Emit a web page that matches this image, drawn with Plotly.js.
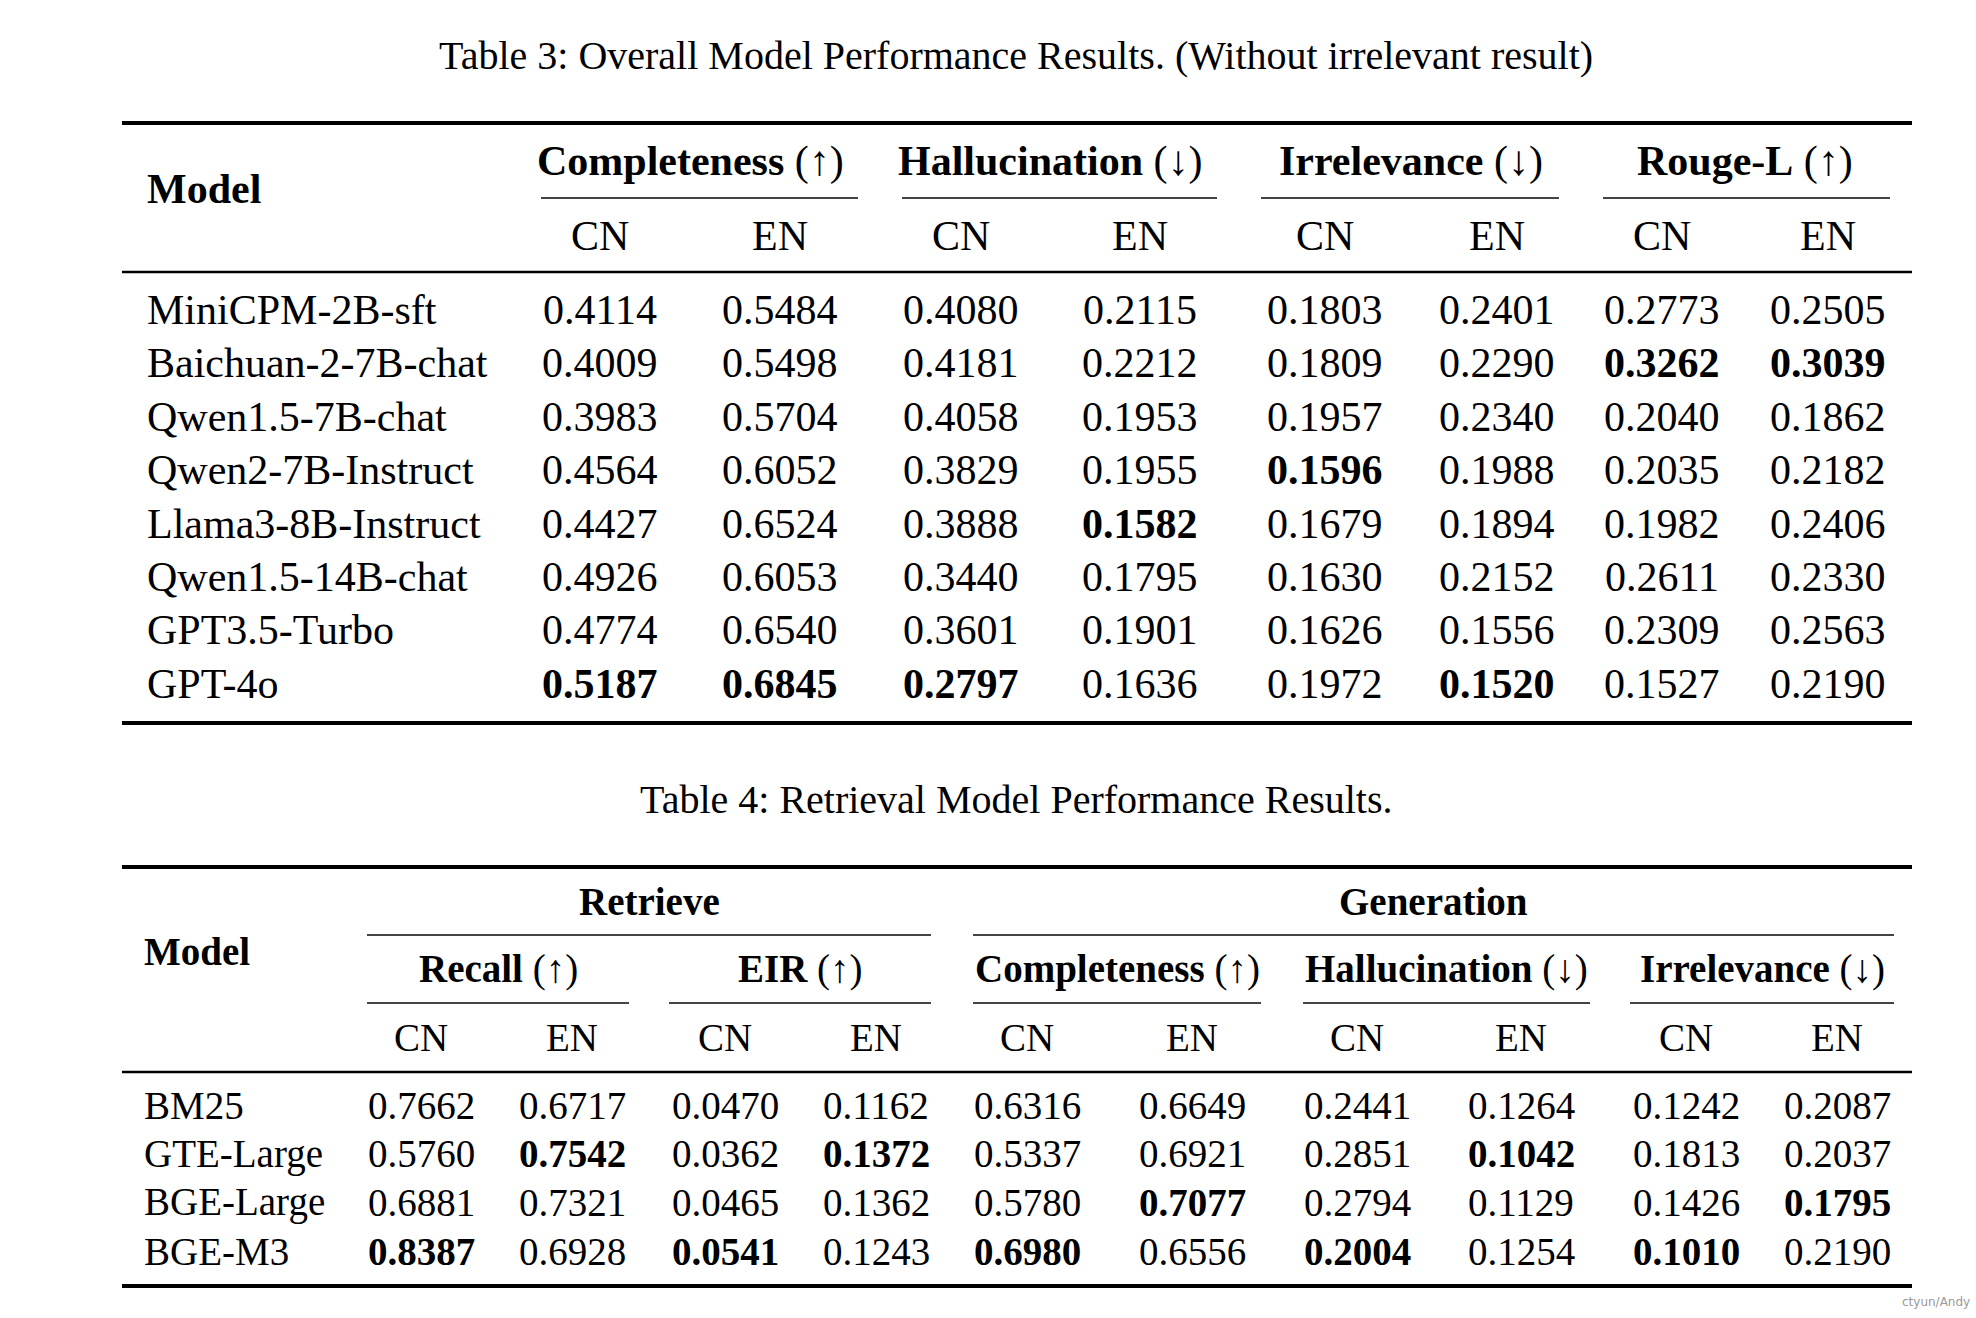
<!DOCTYPE html>
<html>
<head>
<meta charset="utf-8">
<script src="https://cdn.plot.ly/plotly-3.0.1.min.js"></script>
<style>
  html, body { margin: 0; padding: 0; background: #fff; }
  #chart { width: 1976px; height: 1318px; }
</style>
</head>
<body>
<div id="chart"></div>
<script>
// ---- Table 3 data ----
const models = ['MiniCPM-2B-sft', 'Baichuan-2-7B-chat', 'Qwen1.5-7B-chat', 'Qwen2-7B-Instruct',
  'Llama3-8B-Instruct', 'Qwen1.5-14B-chat', 'GPT3.5-Turbo', 'GPT-4o'];
const completenessCN = [0.4114, 0.4009, 0.3983, 0.4564, 0.4427, 0.4926, 0.4774, 0.5187];
const completenessEN = [0.5484, 0.5498, 0.5704, 0.6052, 0.6524, 0.6053, 0.6540, 0.6845];
const hallucinationCN = [0.4080, 0.4181, 0.4058, 0.3829, 0.3888, 0.3440, 0.3601, 0.2797];
const hallucinationEN = [0.2115, 0.2212, 0.1953, 0.1955, 0.1582, 0.1795, 0.1901, 0.1636];
const irrelevanceCN = [0.1803, 0.1809, 0.1957, 0.1596, 0.1679, 0.1630, 0.1626, 0.1972];
const irrelevanceEN = [0.2401, 0.2290, 0.2340, 0.1988, 0.1894, 0.2152, 0.1556, 0.1520];
const rougeCN = [0.2773, 0.3262, 0.2040, 0.2035, 0.1982, 0.2611, 0.2309, 0.1527];
const rougeEN = [0.2505, 0.3039, 0.1862, 0.2182, 0.2406, 0.2330, 0.2563, 0.2190];
const metrics3 = ['Completeness', 'Hallucination', 'Irrelevance', 'Rouge-L'];
const metricDir3 = ['up', 'down', 'down', 'up'];

// ---- Table 4 data ----
const retrievers = ['BM25', 'GTE-Large', 'BGE-Large', 'BGE-M3'];
const recallCN = [0.7662, 0.5760, 0.6881, 0.8387];
const recallEN = [0.6717, 0.7542, 0.7321, 0.6928];
const eirCN = [0.0470, 0.0362, 0.0465, 0.0541];
const eirEN = [0.1162, 0.1372, 0.1362, 0.1243];
const genCompCN = [0.6316, 0.5337, 0.5780, 0.6980];
const genCompEN = [0.6649, 0.6921, 0.7077, 0.6556];
const genHallCN = [0.2441, 0.2851, 0.2794, 0.2004];
const genHallEN = [0.1264, 0.1042, 0.1129, 0.1254];
const genIrrCN = [0.1242, 0.1813, 0.1426, 0.1010];
const genIrrEN = [0.2087, 0.2037, 0.1795, 0.2190];
const groups4 = ['Retrieve', 'Generation'];
const metrics4 = ['Recall', 'EIR', 'Completeness', 'Hallucination', 'Irrelevance'];
const metricDir4 = ['up', 'up', 'up', 'down', 'down'];
const langs = ['CN', 'EN'];

const caption3 = 'Table 3: Overall Model Performance Results. (Without irrelevant result)';
const caption4 = 'Table 4: Retrieval Model Performance Results.';

// ---- layout constants (page pixels, y grows downward) ----
const FONT = 'Liberation Serif, Times New Roman, serif';
const LEFT = 122, RIGHT = 1912;
const t3 = {
  size: 42, capY: 55, topRule: 123, groupY: 161, cmidY: 198, langY: 236, midRule: 272,
  rowY0: 310, rowStep: 53.4, bottomRule: 723, modelX: 145,
  colX: [600, 780, 961, 1140, 1325, 1497, 1662, 1828],
  cmid: [[541, 858], [902, 1217], [1261, 1559], [1603, 1890]],
};
const t4 = {
  size: 39, capY: 799, topRule: 867, groupY: 901, cmidTopY: 935, metricY: 969, cmidY: 1003,
  langY: 1037, midRule: 1072, rowY0: 1105, rowStep: 48.7, bottomRule: 1286, modelX: 142,
  colX: [421, 572, 725, 876, 1027, 1192, 1357, 1521, 1686, 1837],
  groupSpan: [[367, 931], [973, 1894]],
  cmid: [[367, 629], [669, 931], [973, 1261], [1303, 1590], [1630, 1894]],
};

const fmt = v => v.toFixed(4);
const arrow = dir => (dir === 'up' ? '(↑)' : '(↓)');

function bestIndex(values, dir) {
  const target = dir === 'up' ? Math.max(...values) : Math.min(...values);
  return values.indexOf(target);
}

function label(x, y, text, size, extra = {}) {
  return {
    x, y, xref: 'x', yref: 'y', text, showarrow: false,
    xanchor: 'center', yanchor: 'middle',
    font: { family: FONT, size, color: '#000' },
    ...extra,
  };
}

function rule(x0, x1, y, width, color = '#000') {
  return { type: 'line', xref: 'x', yref: 'y', x0, x1, y0: y, y1: y, line: { color, width } };
}

const annotations = [];
const shapes = [];

// ---- Table 3 ----
annotations.push(label(1016, t3.capY, caption3, 40));
shapes.push(rule(LEFT, RIGHT, t3.topRule, 4));
shapes.push(rule(LEFT, RIGHT, t3.midRule, 2.6));
shapes.push(rule(LEFT, RIGHT, t3.bottomRule, 4));
annotations.push(label(t3.modelX, (t3.groupY + t3.langY) / 2 - 10, '<b>Model</b>', t3.size, { xanchor: 'left' }));

const cols3 = [completenessCN, completenessEN, hallucinationCN, hallucinationEN,
  irrelevanceCN, irrelevanceEN, rougeCN, rougeEN];
metrics3.forEach((m, g) => {
  const [x0, x1] = t3.cmid[g];
  annotations.push(label((t3.colX[2 * g] + t3.colX[2 * g + 1]) / 2, t3.groupY,
    `<b>${m}</b> ${arrow(metricDir3[g])}`, t3.size));
  shapes.push(rule(x0, x1, t3.cmidY, 2, '#444'));
});
cols3.forEach((col, c) => {
  annotations.push(label(t3.colX[c], t3.langY, langs[c % 2], t3.size));
  const best = bestIndex(col, metricDir3[Math.floor(c / 2)]);
  col.forEach((v, r) => {
    const txt = r === best ? `<b>${fmt(v)}</b>` : fmt(v);
    annotations.push(label(t3.colX[c], t3.rowY0 + r * t3.rowStep, txt, t3.size));
  });
});
models.forEach((m, r) => {
  annotations.push(label(t3.modelX, t3.rowY0 + r * t3.rowStep, m, t3.size, { xanchor: 'left' }));
});

// ---- Table 4 ----
annotations.push(label(1016, t4.capY, caption4, 40));
shapes.push(rule(LEFT, RIGHT, t4.topRule, 4));
shapes.push(rule(LEFT, RIGHT, t4.midRule, 2.6));
shapes.push(rule(LEFT, RIGHT, t4.bottomRule, 4));
annotations.push(label(t4.modelX, (t4.groupY + t4.langY) / 2 - 18, '<b>Model</b>', t4.size, { xanchor: 'left' }));

groups4.forEach((g, i) => {
  const [x0, x1] = t4.groupSpan[i];
  annotations.push(label((x0 + x1) / 2, t4.groupY, `<b>${g}</b>`, t4.size));
  shapes.push(rule(x0, x1, t4.cmidTopY, 2, '#444'));
});
const cols4 = [recallCN, recallEN, eirCN, eirEN, genCompCN, genCompEN,
  genHallCN, genHallEN, genIrrCN, genIrrEN];
metrics4.forEach((m, g) => {
  const [x0, x1] = t4.cmid[g];
  annotations.push(label((x0 + x1) / 2, t4.metricY, `<b>${m}</b> ${arrow(metricDir4[g])}`, t4.size));
  shapes.push(rule(x0, x1, t4.cmidY, 2, '#444'));
});
cols4.forEach((col, c) => {
  annotations.push(label(t4.colX[c], t4.langY, langs[c % 2], t4.size));
  const best = bestIndex(col, metricDir4[Math.floor(c / 2)]);
  col.forEach((v, r) => {
    const txt = r === best ? `<b>${fmt(v)}</b>` : fmt(v);
    annotations.push(label(t4.colX[c], t4.rowY0 + r * t4.rowStep, txt, t4.size));
  });
});
retrievers.forEach((m, r) => {
  annotations.push(label(t4.modelX, t4.rowY0 + r * t4.rowStep, m, t4.size, { xanchor: 'left' }));
});

// watermark
annotations.push(label(1972, 1302, 'ctyun/Andy', 12, {
  xanchor: 'right', font: { family: 'DejaVu Sans, sans-serif', size: 12, color: '#9a9a9a' },
}));

const layout = {
  width: 1976,
  height: 1318,
  margin: { t: 0, b: 0, l: 0, r: 0 },
  paper_bgcolor: '#fff',
  plot_bgcolor: '#fff',
  showlegend: false,
  xaxis: { range: [0, 1976], visible: false, fixedrange: true },
  yaxis: { range: [1318, 0], visible: false, fixedrange: true },
  shapes,
  annotations,
};

Plotly.newPlot('chart', [], layout, { displayModeBar: false, staticPlot: true });
</script>
</body>
</html>
